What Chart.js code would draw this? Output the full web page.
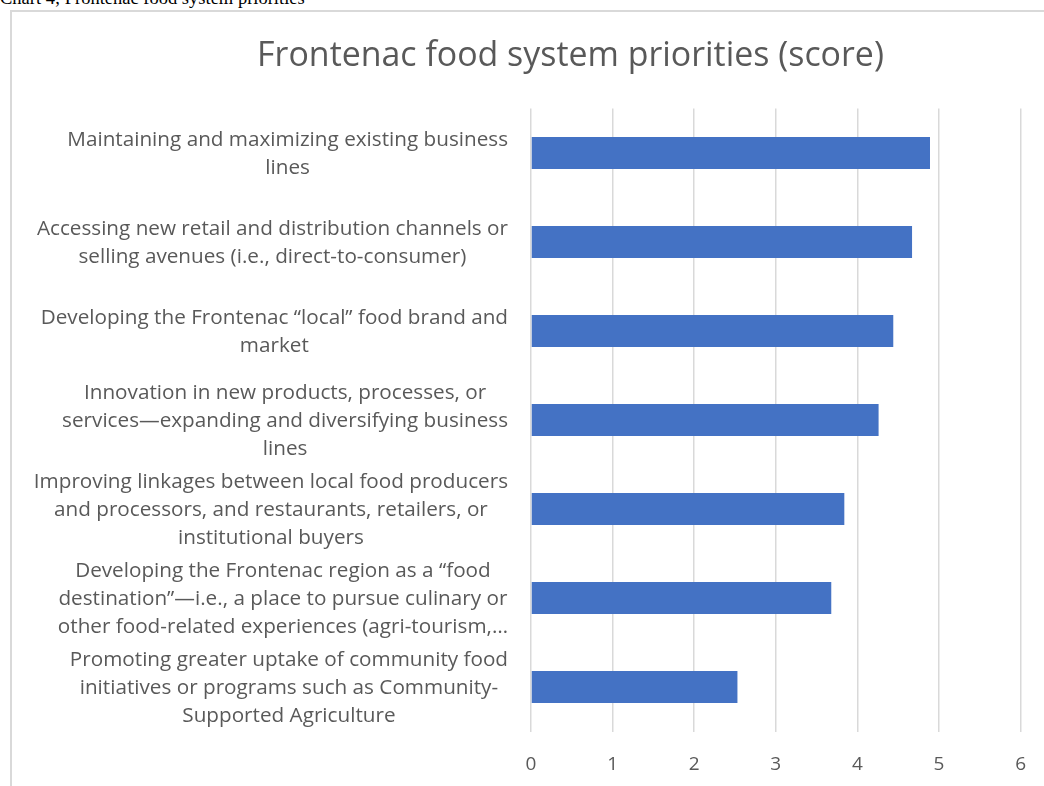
<!DOCTYPE html>
<html>
<head>
<meta charset="utf-8">
<title>Frontenac food system priorities</title>
<script src="https://cdn.jsdelivr.net/npm/chart.js@4/dist/chart.umd.min.js"></script>
<style>
  html, body { margin: 0; padding: 0; background: #fff; overflow: hidden; }
  #caption {
    position: absolute; left: 0; top: -11px;
    font: 18.5px/18px "Liberation Serif", "Times New Roman", serif;
    color: #000; white-space: nowrap;
  }
  #frame {
    position: absolute; left: 10px; top: 10px; width: 2000px; height: 2000px;
    border-left: 2px solid #d9d9d9; border-top: 2px solid #d9d9d9;
    pointer-events: none;
  }
  /* a little wider than the window: the chart frame runs on past the right edge */
  #wrap { position: absolute; left: 0; top: 0; width: 1048px; height: 786px; }
</style>
</head>
<body>
<div id="caption">Chart 4; Frontenac food system priorities</div>
<div id="frame"></div>
<div id="wrap"><canvas id="chart"></canvas></div>
<script>
// priorities, top to bottom, already broken into lines
const categories = [
    ['Maintaining and maximizing existing business', 'lines'],
    ['Accessing new retail and distribution channels or', 'selling avenues (i.e., direct-to-consumer)'],
    ['Developing the Frontenac \u201clocal\u201d food brand and', 'market'],
    ['Innovation in new products, processes, or', 'services\u2014expanding and diversifying business', 'lines'],
    ['Improving linkages between local food producers', 'and processors, and restaurants, retailers, or', 'institutional buyers'],
    ['Developing the Frontenac region as a \u201cfood', 'destination\u201d\u2014i.e., a place to pursue culinary or', 'other food-related experiences (agri-tourism,\u2026'],
    ['Promoting greater uptake of community food', 'initiatives or programs such as Community-', 'Supported Agriculture']
];
const scores = [4.89, 4.67, 4.44, 4.26, 3.84, 3.68, 2.53];
const scoreTicks = [0, 1, 2, 3, 4, 5, 6];

const textColor = '#595959';
const gridColor = '#d9d9d9';
const fontFamily = '"Open Sans"';

// category labels: each block right-aligned against the plot, lines centred inside it
const categoryLabels = {
    id: 'categoryLabels',
    afterDraw(chart) {
        const { ctx, chartArea, scales: { y } } = chart;
        const right = chartArea.left - 23;
        const lineH = 28;
        ctx.save();
        ctx.font = '20.7px ' + fontFamily;
        ctx.fillStyle = textColor;
        ctx.textAlign = 'center';
        ctx.textBaseline = 'middle';
        categories.forEach((lines, i) => {
            const yc = y.getPixelForValue(i) + 1;
            const w = Math.max(...lines.map(l => ctx.measureText(l).width));
            const cx = right - w / 2;
            lines.forEach((l, j) => {
                ctx.fillText(l, cx, yc + (j - (lines.length - 1) / 2) * lineH);
            });
        });
        ctx.restore();
    }
};

new Chart(document.getElementById('chart'), {
    type: 'bar',
    data: {
        labels: categories,
        datasets: [{
            data: scores,
            backgroundColor: '#4472c4',
            borderWidth: 0,
            barPercentage: 0.36,
            categoryPercentage: 1
        }]
    },
    options: {
        indexAxis: 'y',
        responsive: true,
        maintainAspectRatio: false,
        animation: false,
        layout: { padding: { left: 116, right: 23, top: 0, bottom: 0 } },
        scales: {
            x: {
                min: scoreTicks[0],
                max: scoreTicks[scoreTicks.length - 1],
                afterBuildTicks: (scale) => { scale.ticks = scoreTicks.map(v => ({ value: v })); },
                afterFit: (scale) => { scale.height = 54.5; },
                grid: { color: gridColor, lineWidth: 1.5, drawTicks: false },
                border: { display: false },
                ticks: { color: textColor, font: { family: 'Open Sans', size: 19 }, padding: 22 }
            },
            y: {
                afterFit: (scale) => { scale.width = 415; },
                grid: { display: false },
                border: { display: false },
                ticks: { display: false }
            }
        },
        plugins: {
            legend: { display: false },
            tooltip: { enabled: false },
            title: {
                display: true,
                text: 'Frontenac food system priorities (score)',
                color: textColor,
                font: { family: 'Open Sans', size: 33.9, weight: 'normal', lineHeight: 1.2 },
                padding: { top: 35.6, bottom: 32.2 }
            }
        }
    },
    plugins: [categoryLabels]
});
</script>
</body>
</html>
